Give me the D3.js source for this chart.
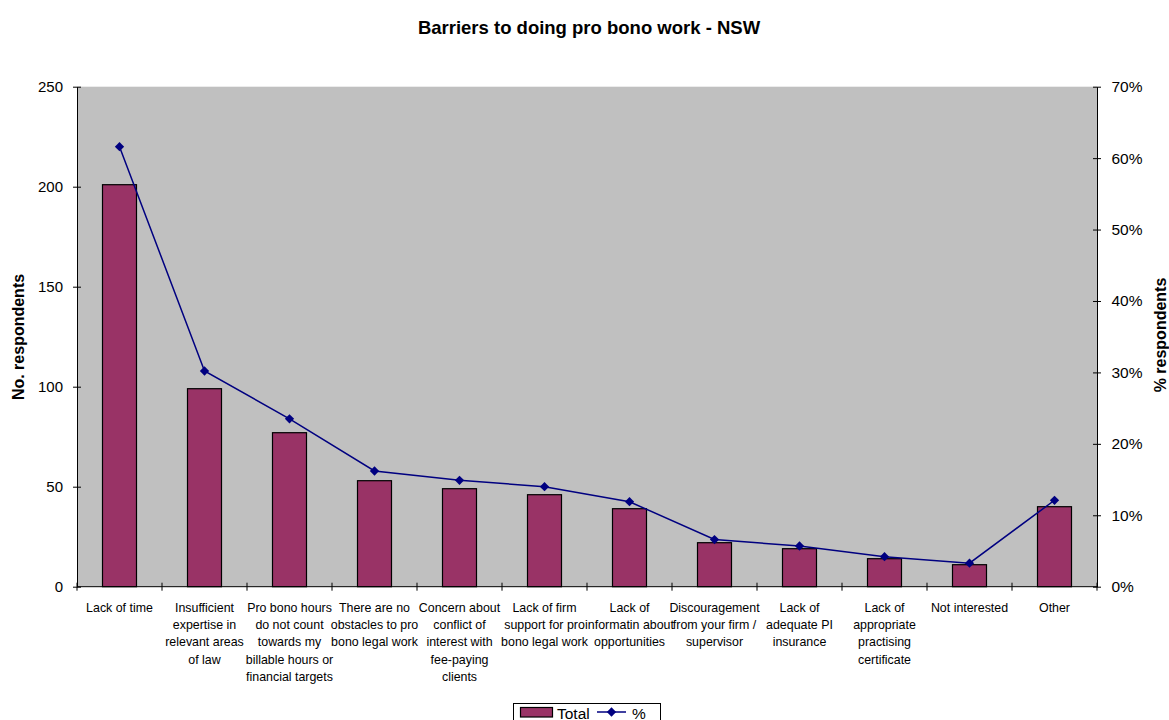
<!DOCTYPE html>
<html>
<head>
<meta charset="utf-8">
<script src="https://cdn.jsdelivr.net/npm/d3@7"></script>
<style>
  body { margin: 0; background: #fff; }
  svg { font-family: "Liberation Sans", Arial, sans-serif; }
</style>
</head>
<body>
<svg id="chart" width="1169" height="720"></svg>
<script>
const title = "Barriers to doing pro bono work - NSW";
const categories = [
  "Lack of time",
  "Insufficient\nexpertise in\nrelevant areas\nof law",
  "Pro bono hours\ndo not count\ntowards my\nbillable hours or\nfinancial targets",
  "There are no\nobstacles to pro\nbono legal work",
  "Concern about\nconflict of\ninterest with\nfee-paying\nclients",
  "Lack of firm\nsupport for pro\nbono legal work",
  "Lack of\ninformatin about\nopportunities",
  "Discouragement\nfrom your firm /\nsupervisor",
  "Lack of\nadequate PI\ninsurance",
  "Lack of\nappropriate\npractising\ncertificate",
  "Not interested",
  "Other"
];
const totals = [201, 99, 77, 53, 49, 46, 39, 22, 19, 14, 11, 40];
const percents = [0.616, 0.302, 0.235, 0.162, 0.149, 0.140, 0.119, 0.066, 0.057, 0.042, 0.033, 0.121];
const leftTicks = [0, 50, 100, 150, 200, 250];
const rightTicks = [0, 0.1, 0.2, 0.3, 0.4, 0.5, 0.6, 0.7];
const seriesNames = ["Total", "%"];

const svg = d3.select("#chart");
const M = {left: 77, right: 1097, top: 86.7, bottom: 586.7};

const x = d3.scaleBand().domain(d3.range(categories.length)).range([M.left, M.right]).paddingInner(0).paddingOuter(0);
const yL = d3.scaleLinear().domain([0, 250]).range([M.bottom, M.top]);
const yR = d3.scaleLinear().domain([0, 0.7]).range([M.bottom, M.top]);

// plot background
svg.append("rect").attr("x", M.left).attr("y", M.top)
  .attr("width", M.right - M.left).attr("height", M.bottom - M.top)
  .attr("fill", "#C0C0C0");

// title
svg.append("text").attr("x", 589).attr("y", 34).attr("text-anchor", "middle")
  .attr("font-size", "18.5px").attr("font-weight", "bold").text(title);

// bars
const bw = x.bandwidth() * 0.4;
svg.append("g").selectAll("rect").data(totals).join("rect")
  .attr("x", (d, i) => x(i) + x.bandwidth() / 2 - bw / 2)
  .attr("y", d => yL(d))
  .attr("width", bw)
  .attr("height", d => yL(0) - yL(d))
  .attr("fill", "#993366").attr("stroke", "#000").attr("stroke-width", 1.2);

// line
const line = d3.line().x((d, i) => x(i) + x.bandwidth() / 2).y(d => yR(d));
svg.append("path").datum(percents).attr("d", line)
  .attr("fill", "none").attr("stroke", "#000080").attr("stroke-width", 1.5);
const diamond = d3.symbol().type(d3.symbolDiamond2).size(55);
svg.append("g").selectAll("path").data(percents).join("path")
  .attr("transform", (d, i) => `translate(${x(i) + x.bandwidth() / 2},${yR(d)})`)
  .attr("d", diamond).attr("fill", "#000080");

// left axis
const gL = svg.append("g").attr("transform", `translate(${M.left},0)`)
  .call(d3.axisLeft(yL).tickValues(leftTicks).tickSize(4).tickSizeOuter(0).tickPadding(10));
gL.selectAll(".tick line").attr("x2", -4).attr("x1", 4);
gL.selectAll("text").attr("font-size", "15px").attr("font-family", "Liberation Sans, Arial, sans-serif").attr("fill", "#000");
gL.select(".domain").attr("stroke", "#000");

// right axis
const gR = svg.append("g").attr("transform", `translate(${M.right},0)`)
  .call(d3.axisRight(yR).tickValues(rightTicks).tickFormat(d3.format(".0%")).tickSize(4).tickSizeOuter(0).tickPadding(10.5));
gR.selectAll(".tick line").attr("x1", -4).attr("x2", 4);
gR.selectAll("text").attr("font-size", "15.5px").attr("font-family", "Liberation Sans, Arial, sans-serif").attr("fill", "#000");
gR.select(".domain").attr("stroke", "#000");

// bottom axis (ticks between categories)
const gB = svg.append("g").attr("transform", `translate(0,${M.bottom})`);
gB.append("line").attr("x1", M.left).attr("x2", M.right).attr("stroke", "#000");
gB.selectAll("line.tk").data(d3.range(categories.length + 1)).join("line").attr("class", "tk")
  .attr("x1", i => M.left + i * x.step()).attr("x2", i => M.left + i * x.step())
  .attr("y1", -4).attr("y2", 4).attr("stroke", "#000");

// category labels
const lab = svg.append("g").selectAll("text").data(categories).join("text")
  .attr("text-anchor", "middle").attr("font-size", "12.4px").attr("fill", "#000");
lab.each(function (d, i) {
  const t = d3.select(this);
  d.split("\n").forEach((ln, j) => {
    t.append("tspan").attr("x", x(i) + x.bandwidth() / 2).attr("y", 611.5 + j * 17.4).text(ln);
  });
});

// axis titles
svg.append("text").attr("transform", "translate(24,337) rotate(-90)").attr("text-anchor", "middle")
  .attr("font-size", "16px").attr("font-weight", "bold").text("No. respondents");
svg.append("text").attr("transform", "translate(1166,335) rotate(-90)").attr("text-anchor", "middle")
  .attr("font-size", "16px").attr("font-weight", "bold").text("% respondents");

// legend
const lg = svg.append("g");
lg.append("rect").attr("x", 513.5).attr("y", 703.5).attr("width", 147).attr("height", 24)
  .attr("fill", "#fff").attr("stroke", "#000");
lg.append("rect").attr("x", 520.5).attr("y", 707.5).attr("width", 32).attr("height", 9.5)
  .attr("fill", "#993366").attr("stroke", "#000").attr("stroke-width", 1.2);
lg.append("text").attr("x", 557).attr("y", 718.5).attr("font-size", "15.5px").text(seriesNames[0]);
lg.append("line").attr("x1", 597).attr("x2", 626).attr("y1", 712).attr("y2", 712)
  .attr("stroke", "#000080").attr("stroke-width", 1.5);
lg.append("path").attr("transform", "translate(611.5,712)").attr("d", diamond).attr("fill", "#000080");
lg.append("text").attr("x", 632).attr("y", 718.5).attr("font-size", "15.5px").text(seriesNames[1]);
</script>
</body>
</html>
